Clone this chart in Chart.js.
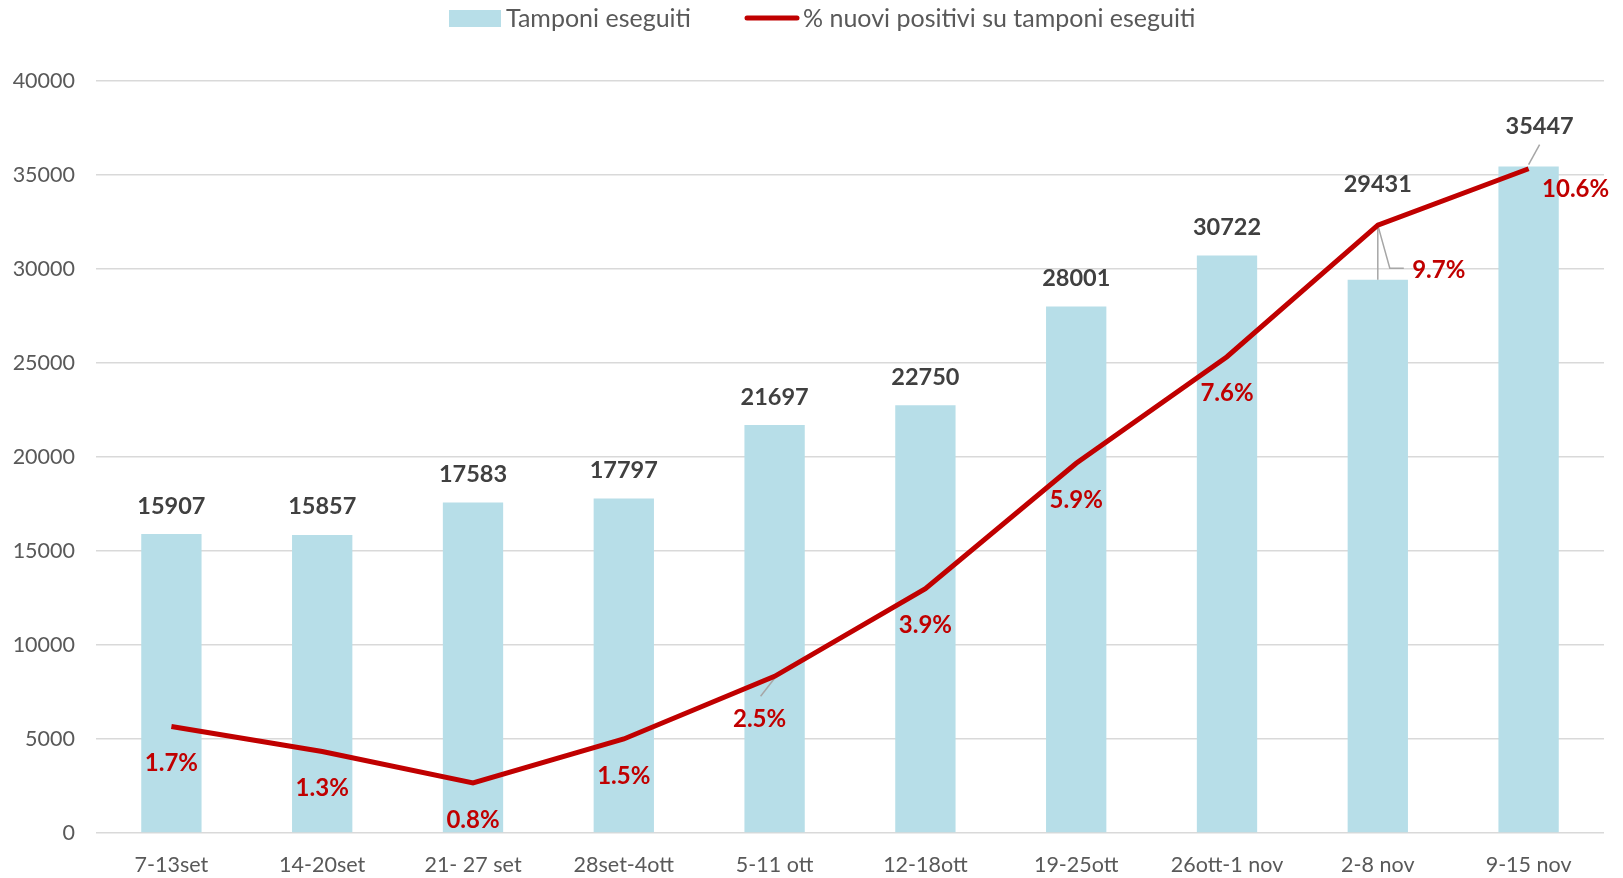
<!DOCTYPE html>
<html>
<head>
<meta charset="utf-8">
<script src="https://cdn.jsdelivr.net/npm/chart.js@4.4.1/dist/chart.umd.min.js"></script>
<style>
  html, body { margin: 0; padding: 0; background: #fff; }
  #wrap { width: 1623px; height: 878px; }
</style>
</head>
<body>
<div id="wrap"><canvas id="grafico" width="1623" height="878"></canvas></div>
<script>
const settimane = ['7-13set', '14-20set', '21- 27 set', '28set-4ott', '5-11 ott', '12-18ott', '19-25ott', '26ott-1 nov', '2-8 nov', '9-15 nov'];
const tamponi = [15907, 15857, 17583, 17797, 21697, 22750, 28001, 30722, 29431, 35447];
const percPositivi = [1.7, 1.3, 0.8, 1.5, 2.5, 3.9, 5.9, 7.6, 9.7, 10.6];

const BLU = '#b7dee8';
const ROSSO = '#c00000';
const FONT = 'Lato, "Open Sans", sans-serif';

// spostamenti delle etichette (pixel), come nel grafico originale
const offBarre = { 8: { dx: 0, dy: -95, leader: [[0, -57], [0, 0]] }, 9: { dx: 11, dy: -40, leader: [[0, -2], [11, -22]] } };
const offLinea = { 4: { dx: -15, dy: 43, leader: [[0, 2], [-14, 20]] }, 8: { dx: 61, dy: 45, leader: [[0, 0], [12, 43], [26, 43]] }, 9: { dx: 47, dy: 21 } };

function tracciaLeader(ctx, x, y, pts) {
    ctx.save();
    ctx.strokeStyle = '#a6a6a6';
    ctx.lineWidth = 1.5;
    ctx.beginPath();
    pts.forEach(function(p, i) {
        if (i === 0) ctx.moveTo(x + p[0], y + p[1]);
        else ctx.lineTo(x + p[0], y + p[1]);
    });
    ctx.stroke();
    ctx.restore();
}

const etichette = {
    id: 'etichette',
    afterDatasetDraw(chart, args) {
        // linee guida sotto la linea rossa
        if (args.index !== 0) return;
        const ctx = chart.ctx;
        chart.getDatasetMeta(0).data.forEach(function(bar, i) {
            if (offBarre[i] && offBarre[i].leader) tracciaLeader(ctx, bar.x, bar.y, offBarre[i].leader);
        });
        chart.getDatasetMeta(1).data.forEach(function(pt, i) {
            if (offLinea[i] && offLinea[i].leader) tracciaLeader(ctx, pt.x, pt.y, offLinea[i].leader);
        });
    },
    afterDatasetsDraw(chart) {
        const ctx = chart.ctx;
        ctx.save();
        ctx.font = 'bold 23.5px ' + FONT;
        ctx.textAlign = 'center';
        ctx.textBaseline = 'middle';
        ctx.fillStyle = '#404040';
        chart.getDatasetMeta(0).data.forEach(function(bar, i) {
            const o = offBarre[i] || { dx: 0, dy: -28 };
            ctx.fillText(String(tamponi[i]), bar.x + o.dx, bar.y + o.dy);
        });
        ctx.font = 'bold 24px ' + FONT;
        ctx.fillStyle = ROSSO;
        chart.getDatasetMeta(1).data.forEach(function(pt, i) {
            const o = offLinea[i] || { dx: 0, dy: 37 };
            ctx.fillText(percPositivi[i].toFixed(1) + '%', pt.x + o.dx, pt.y + o.dy);
        });

        // legenda
        ctx.font = '25px ' + FONT;
        ctx.textAlign = 'left';
        ctx.fillStyle = BLU;
        ctx.fillRect(449, 10, 52, 17);
        ctx.fillStyle = '#595959';
        ctx.fillText('Tamponi eseguiti', 506, 19);
        ctx.strokeStyle = ROSSO;
        ctx.lineWidth = 5;
        ctx.lineCap = 'round';
        ctx.beginPath();
        ctx.moveTo(747, 18);
        ctx.lineTo(797, 18);
        ctx.stroke();
        ctx.fillText('% nuovi positivi su tamponi eseguiti', 803, 19);
        ctx.restore();
    }
};

new Chart(document.getElementById('grafico').getContext('2d'), {
    type: 'bar',
    data: {
        labels: settimane,
        datasets: [
            {
                label: 'Tamponi eseguiti',
                data: tamponi,
                backgroundColor: BLU,
                barPercentage: 0.4,
                categoryPercentage: 1,
                yAxisID: 'y',
                order: 2
            },
            {
                type: 'line',
                label: '% nuovi positivi su tamponi eseguiti',
                data: percPositivi,
                borderColor: ROSSO,
                backgroundColor: ROSSO,
                borderWidth: 5,
                pointRadius: 0,
                tension: 0,
                fill: false,
                yAxisID: 'y1',
                order: 1
            }
        ]
    },
    options: {
        responsive: false,
        animation: false,
        layout: { padding: { top: 81, right: 19, left: 0, bottom: 0 } },
        plugins: {
            legend: { display: false },
            tooltip: { enabled: false }
        },
        scales: {
            x: {
                grid: { display: false },
                border: { display: false },
                ticks: { color: '#595959', font: { family: FONT, size: 21.5 }, padding: 11, maxRotation: 0 },
                afterFit: function(s) { s.height = 45; }
            },
            y: {
                min: 0,
                max: 40000,
                grid: { color: '#d9d9d9', lineWidth: 1.5, drawTicks: false },
                border: { display: false },
                ticks: {
                    stepSize: 5000,
                    color: '#595959',
                    font: { family: FONT, size: 21.5 },
                    padding: 21,
                    callback: function(value) { return value; }
                },
                afterFit: function(s) { s.width = 96; }
            },
            y1: {
                display: false,
                min: 0,
                max: 12
            }
        }
    },
    plugins: [etichette]
});
</script>
</body>
</html>
